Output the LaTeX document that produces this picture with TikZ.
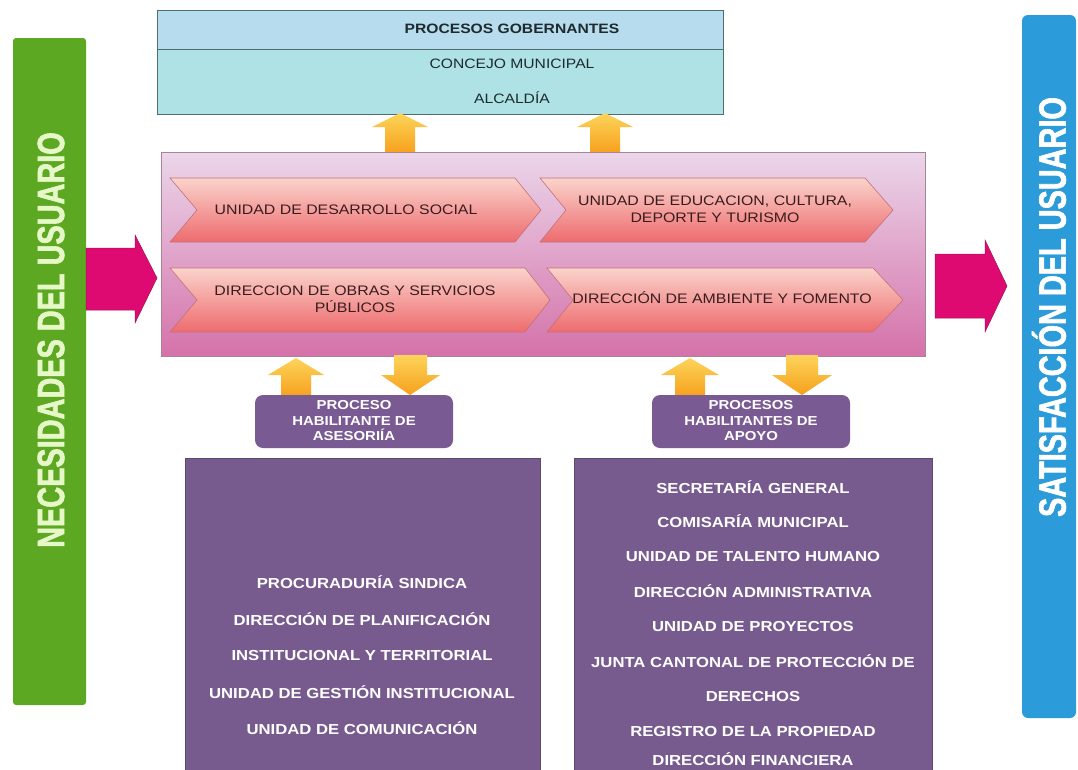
\documentclass[tikz,border=0pt]{standalone}
\usepackage{fontspec}
\setmainfont{Liberation Sans}
\newfontfamily\wfont[FakeStretch=1.15]{Liberation Sans}
\newfontfamily\cfont[FakeStretch=0.76,FakeBold=1.6]{Liberation Sans}
\definecolor{gobhead}{HTML}{B6DCEE}
\definecolor{gobbody}{HTML}{AEE2E4}
\definecolor{gobline}{HTML}{4F6E72}
\definecolor{gobtext}{HTML}{1E2A2E}
\definecolor{pinktop}{HTML}{EBD6EA}
\definecolor{pinkbot}{HTML}{D572AA}
\definecolor{pinkline}{HTML}{A98299}
\definecolor{chevtop}{HTML}{FAD3CB}
\definecolor{chevbot}{HTML}{EE6B6E}
\definecolor{chevline}{HTML}{C07277}
\definecolor{chevtext}{HTML}{3A1C1E}
\definecolor{magarrow}{HTML}{DE0A72}
\definecolor{magedge}{HTML}{9E1452}
\definecolor{orlight}{HTML}{FDD45A}
\definecolor{ordark}{HTML}{F6A01C}
\definecolor{purplebox}{HTML}{775B8E}
\definecolor{purpleline}{HTML}{5C4A6E}
\definecolor{purplelab}{HTML}{7A5A93}
\definecolor{greenbar}{HTML}{5DA822}
\definecolor{greentext}{HTML}{E6F7C8}
\definecolor{bluebar}{HTML}{2C9BDA}
\tikzset{
  gobtxt/.style={font=\wfont\fontsize{13.6}{15}\selectfont, text=gobtext, inner sep=0pt},
  chevtxt/.style={font=\wfont\fontsize{13.8}{17}\selectfont, text=chevtext, align=center, inner sep=0pt},
  boxtxt/.style={font=\wfont\bfseries\fontsize{14.5}{16}\selectfont, text=white, inner sep=0pt},
  labtxt/.style={font=\wfont\bfseries\fontsize{13}{15.5}\selectfont, text=white, align=center, inner sep=0pt},
  sidetxt/.style={font=\cfont\bfseries\fontsize{38}{40}\selectfont, rotate=90, inner sep=0pt},
  oarrow/.style={top color=orlight, bottom color=ordark, draw=none},
  marrow/.style={fill=magarrow, draw=magedge, line width=0.5pt},
  chevshape/.style={draw=chevline, line width=0.6pt, top color=chevtop, bottom color=chevbot},
  purplebx/.style={fill=purplebox, draw=purpleline, line width=0.6pt},
  labbx/.style={fill=purplelab, draw=none, rounded corners=8pt},
}
\begin{document}
\begin{tikzpicture}[x=1pt,y=-1pt]
\useasboundingbox (0,0) rectangle (1078,769);
\fill[white] (0,0) rectangle (1078,769);

% side bars
\fill[greenbar, rounded corners=3pt] (13,38) rectangle (86,705);
\node[sidetxt, text=greentext] (nec) at (51,340) {NECESIDADES DEL USUARIO};
\fill[bluebar, rounded corners=6pt] (1022,15) rectangle (1076,718);
\node[sidetxt, text=white] (sat) at (1049,307) {SATISFACCIÓN DEL USUARIO};

% top box
\fill[gobhead] (157,10) rectangle (723,49);
\fill[gobbody] (157,49) rectangle (723,114);
\draw[gobline, line width=0.7pt] (157,10) rectangle (723,114);
\draw[gobline, line width=0.7pt] (157,49) -- (723,49);
\node[gobtxt, font=\wfont\bfseries\fontsize{13.6}{15}\selectfont] (gob) at (512,29) {PROCESOS GOBERNANTES};
\node[gobtxt] (con) at (512,64) {CONCEJO MUNICIPAL};
\node[gobtxt] (alc) at (512,98) {ALCALDÍA};

% top orange arrows
\path[oarrow] (400,113) -- (428,127) -- (415,127) -- (415,153) -- (385,153) -- (385,127) -- (372,127) -- cycle;
\path[oarrow] (605,113) -- (633,127) -- (620,127) -- (620,153) -- (590,153) -- (590,127) -- (577,127) -- cycle;

% pink box
\path[top color=pinktop, bottom color=pinkbot, draw=pinkline, line width=0.7pt] (161,152) rectangle (925,356);

% chevrons
\path[chevshape] (170,178) -- (515,178) -- (541,210) -- (515,242) -- (170,242) -- (197,210) -- cycle;
\path[chevshape] (540,178) -- (865,178) -- (893,210) -- (865,242) -- (540,242) -- (566,210) -- cycle;
\path[chevshape] (170,268) -- (525,268) -- (550,300) -- (525,332) -- (170,332) -- (197,300) -- cycle;
\path[chevshape] (547,268) -- (873,268) -- (903,300) -- (873,332) -- (547,332) -- (573,300) -- cycle;
\node[chevtxt] (uds) at (346,210) {UNIDAD DE DESARROLLO SOCIAL};
\node[chevtxt] (uec) at (715,209) {UNIDAD DE EDUCACION, CULTURA,\\DEPORTE Y TURISMO};
\node[chevtxt] (dos) at (355,299) {DIRECCION DE OBRAS Y SERVICIOS\\PÚBLICOS};
\node[chevtxt] (daf) at (722,298) {DIRECCIÓN DE AMBIENTE Y FOMENTO};

% magenta arrows
\path[marrow] (86,248) -- (135,248) -- (135,235) -- (157,278) -- (135,323) -- (135,310) -- (86,310) -- cycle;
\path[marrow] (935,254) -- (985,254) -- (985,240) -- (1007,286) -- (985,332) -- (985,318) -- (935,318) -- cycle;

% lower orange arrows
\path[oarrow] (296,358) -- (324,375) -- (311,375) -- (311,397) -- (281,397) -- (281,375) -- (268,375) -- cycle;
\path[oarrow] (394,355) -- (427,355) -- (427,375) -- (440,375) -- (410,395) -- (381,375) -- (394,375) -- cycle;
\path[oarrow] (690,358) -- (719,375) -- (705,375) -- (705,397) -- (675,397) -- (675,375) -- (661,375) -- cycle;
\path[oarrow] (786,355) -- (818,355) -- (818,375) -- (832,375) -- (802,395) -- (772,375) -- (786,375) -- cycle;

% label boxes
\path[labbx] (255,395) rectangle (453,448);
\node[labtxt] (lab1) at (354,421) {PROCESO\\HABILITANTE DE\\ASESORIÍA};
\path[labbx] (652,395) rectangle (850,448);
\node[labtxt] (lab2) at (751,421) {PROCESOS\\HABILITANTES DE\\APOYO};

% bottom boxes
\path[purplebx] (185,458) rectangle (540,775);
\path[purplebx] (574,458) rectangle (932,775);

\node[boxtxt] (a1) at (362,582) {PROCURADURÍA SINDICA};
\node[boxtxt] (a2) at (362,619) {DIRECCIÓN DE PLANIFICACIÓN};
\node[boxtxt] (a3) at (362,655) {INSTITUCIONAL Y TERRITORIAL};
\node[boxtxt] (a4) at (362,692) {UNIDAD DE GESTIÓN INSTITUCIONAL};
\node[boxtxt] (a5) at (362,728) {UNIDAD DE COMUNICACIÓN};

\node[boxtxt] (b1) at (753,487) {SECRETARÍA GENERAL};
\node[boxtxt] (b2) at (753,521) {COMISARÍA MUNICIPAL};
\node[boxtxt] (b3) at (753,556) {UNIDAD DE TALENTO HUMANO};
\node[boxtxt] (b4) at (753,591) {DIRECCIÓN ADMINISTRATIVA};
\node[boxtxt] (b5) at (753,626) {UNIDAD DE PROYECTOS};
\node[boxtxt] (b6) at (753,661) {JUNTA CANTONAL DE PROTECCIÓN DE};
\node[boxtxt] (b7) at (753,696) {DERECHOS};
\node[boxtxt] (b8) at (753,731) {REGISTRO DE LA PROPIEDAD};
\node[boxtxt] (b9) at (753,759) {DIRECCIÓN FINANCIERA};
\end{tikzpicture}
\end{document}
